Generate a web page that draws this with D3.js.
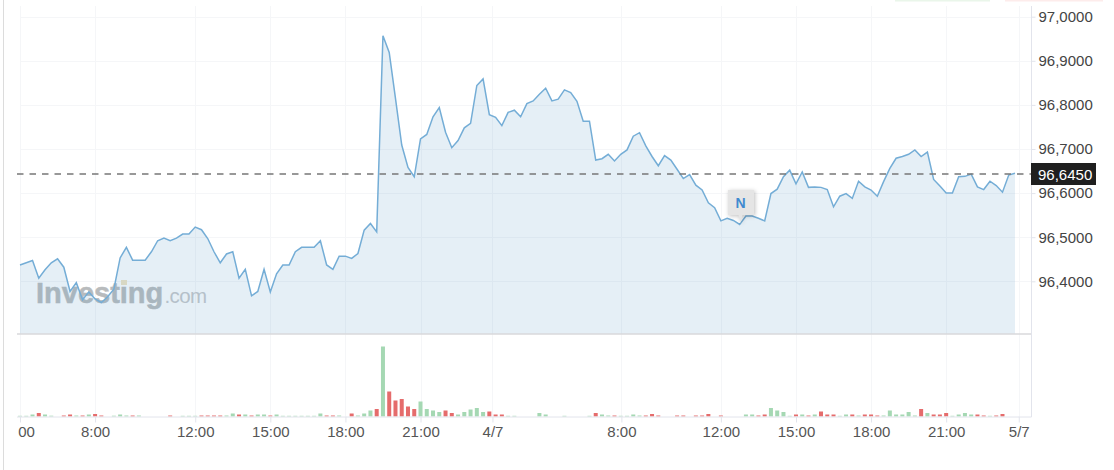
<!DOCTYPE html>
<html>
<head>
<meta charset="utf-8">
<script src="https://cdn.jsdelivr.net/npm/d3@7"></script>
<style>
html, body { margin: 0; padding: 0; background: #fff; overflow: hidden; }
text { font-family: "Liberation Sans", Arial, sans-serif; }
</style>
</head>
<body>
<svg class="chart"></svg>
<script>
var price = [
  96.437, 96.442, 96.447, 96.407, 96.426, 96.442, 96.451, 96.432, 96.377, 96.397,
  96.358, 96.376, 96.360, 96.352, 96.365, 96.382, 96.453, 96.477, 96.448, 96.448,
  96.448, 96.467, 96.492, 96.498, 96.492, 96.498, 96.507, 96.507, 96.523, 96.517,
  96.497, 96.467, 96.442, 96.462, 96.467, 96.407, 96.427, 96.367, 96.377, 96.427,
  96.376, 96.417, 96.437, 96.437, 96.467, 96.477, 96.477, 96.477, 96.492, 96.437,
  96.427, 96.457, 96.457, 96.452, 96.463, 96.516, 96.531, 96.512, 96.957, 96.919,
  96.815, 96.709, 96.658, 96.637, 96.723, 96.733, 96.773, 96.794, 96.738, 96.703,
  96.719, 96.748, 96.758, 96.844, 96.859, 96.778, 96.772, 96.753, 96.783, 96.788,
  96.773, 96.803, 96.809, 96.824, 96.838, 96.809, 96.813, 96.834, 96.828, 96.808,
  96.763, 96.763, 96.675, 96.678, 96.688, 96.673, 96.688, 96.698, 96.729, 96.737,
  96.707, 96.683, 96.662, 96.685, 96.675, 96.654, 96.633, 96.642, 96.618, 96.607,
  96.578, 96.567, 96.537, 96.543, 96.538, 96.529, 96.548, 96.548, 96.543, 96.537,
  96.599, 96.609, 96.637, 96.652, 96.621, 96.648, 96.613, 96.614, 96.613, 96.608,
  96.569, 96.593, 96.599, 96.588, 96.627, 96.614, 96.607, 96.593, 96.626, 96.656,
  96.679, 96.683, 96.688, 96.698, 96.683, 96.693, 96.631, 96.616, 96.600, 96.600,
  96.637, 96.638, 96.643, 96.614, 96.608, 96.627, 96.617, 96.602, 96.641, 96.645
];

// signed: positive is an up bar (green), negative a down bar (red)
var volume = [
  0.7, 0.7, 2, -3.5, 2, 0.8, 0, -1, -2, 1,
  -1, 2, -2.5, -1, 0, 0.8, 2, 1, -1, 1,
  0, 0, 0, 0, -1, 0, 0.7, 0.7, 0.7, -1,
  -1, -1, -1, 1, 3, -2, 2, -1, 2, 2,
  -1, 2, 0.7, 0.7, 0.7, 0.7, 0.7, 0.7, 3, -1,
  -1, 1, 0, -3, 1, 3, 6, -7.5, 70, -25,
  -16, -17.5, -10, -7.5, 15, 7.5, 6, 4.5, -6, -3.5,
  2, 4.5, 7, 8.5, 4.5, -5, -2, -2, 0.7, 0.7,
  0, 0, 0, 3.5, 2, 0, 0, 0.7, 0, 0,
  0, 0.7, -3.5, 2, 1, -1, 0.7, 0.7, 2, 1,
  -1, -2.5, -1, 0, 0, -1, -1, 0, -1, -1,
  -2.5, 0, -1, 0, 0, 0, 2, 2, -1, -2,
  8.5, 6, 4.5, 0.7, -2, 2, -1, 2, -5, -2,
  -2, 0.7, 2, -2, 1, -2, -2, -1, 1, 6,
  2, 2, 4.5, 1, -7.5, 3.5, -2, -2, -3.5, 0.7,
  2, 3.5, 2, -2, -1, 0.7, -1, -2.5, 0, 0
];

var priceTicks = [97.0, 96.9, 96.8, 96.7, 96.6, 96.5, 96.4];
var lastPrice = 96.645;

// time axis is by bar number, the session gaps make some labels fall between bars
var timeTicks = [0, 12, 28, 40, 52, 64, 75.5, 96.1, 112, 124, 136, 148, 159.6];
var timeLabels = ["00", "8:00", "12:00", "15:00", "18:00", "21:00", "4/7", "8:00", "12:00", "15:00", "18:00", "21:00", "5/7"];

var width = 1114,
    height = 470,
    left = 20,
    axisX = 1031.5;

var svg = d3.select(".chart").attr("width", width).attr("height", height).style("display", "block");

var x = d3.scaleLinear().domain([0, 159]).range([left, 1015]);
var y = d3.scaleLinear().domain([97, 96.2805]).range([16.7, 334]);
var v = d3.scaleLinear().domain([0, 70]).range([416.5, 346.5]);

// top edge shadows of the buttons sitting above the chart
svg.append("rect").attr("x", 895).attr("y", 0).attr("width", 95).attr("height", 1.5).attr("fill", "#eaf6ea");
svg.append("rect").attr("x", 1005).attr("y", 0).attr("width", 98).attr("height", 1.5).attr("fill", "#fdeceb");

// left page border
svg.append("line").attr("x1", 3.5).attr("x2", 3.5).attr("y1", 0).attr("y2", height).attr("stroke", "#dcdcdc");

// grid
var grid = svg.append("g").attr("stroke", "#f5f6f8").attr("fill", "none");
grid.selectAll(".hgrid").data(priceTicks).enter().append("line")
    .attr("x1", left).attr("x2", axisX)
    .attr("y1", function(d) { return Math.round(y(d)) + 0.5; })
    .attr("y2", function(d) { return Math.round(y(d)) + 0.5; });
grid.selectAll(".vgrid").data(timeTicks).enter().append("line")
    .attr("x1", function(d) { return Math.round(x(d)) + 0.5; })
    .attr("x2", function(d) { return Math.round(x(d)) + 0.5; })
    .attr("y1", 6).attr("y2", 416);

// watermark goes under the line
var mark = svg.append("g").attr("transform", "translate(36,302.5)");
mark.append("text").attr("font-size", 29).attr("font-weight", "bold")
    .attr("fill", "#b8bbbd").attr("stroke", "#b8bbbd").attr("stroke-width", 0.5).text("Investing");
mark.append("text").attr("x", 128.5).attr("font-size", 20.5).attr("letter-spacing", -0.6)
    .attr("fill", "#c6c8ca").text(".com");
mark.append("rect").attr("x", 85).attr("y", -22.5).attr("width", 6).attr("height", 5).attr("fill", "#f0e4c4");

// price area and line
var area = d3.area()
    .x(function(d, i) { return x(i); })
    .y0(y.range()[1])
    .y1(function(d) { return y(d); });

var line = d3.line()
    .x(function(d, i) { return x(i); })
    .y(function(d) { return y(d); });

svg.append("path").datum(price).attr("d", area).attr("fill", "#5d9cc8").attr("fill-opacity", 0.16);
svg.append("path").datum(price).attr("d", line)
    .attr("fill", "none").attr("stroke", "#74add6").attr("stroke-width", 1.5);

// volume bars
svg.append("g").selectAll("rect").data(volume).enter().append("rect")
    .attr("x", function(d, i) { return x(i) - 2; })
    .attr("y", function(d) { return v(Math.abs(d)); })
    .attr("width", 4)
    .attr("height", function(d) { return v(0) - v(Math.abs(d)); })
    .attr("fill", function(d) { return d > 0 ? "#a5d8b3" : "#e56c6c"; });

// panel lines
svg.append("line").attr("x1", 17).attr("x2", axisX).attr("y1", 334).attr("y2", 334)
    .attr("stroke", "#d8d9db").attr("stroke-width", 1.5);
svg.append("line").attr("x1", axisX).attr("x2", axisX).attr("y1", 6).attr("y2", 417)
    .attr("stroke", "#e2e4ec");

// price axis
var priceAxis = svg.append("g")
    .attr("transform", "translate(" + axisX + ",0)")
    .call(d3.axisRight(y)
        .tickValues(priceTicks)
        .tickSize(4)
        .tickPadding(3)
        .tickFormat(function(d) { return d3.format(".4f")(d).replace(".", ","); }));
priceAxis.select(".domain").remove();
priceAxis.selectAll("line").attr("stroke", "#e2e4ec");
priceAxis.selectAll("text").attr("font-size", 15).attr("fill", "#444");

// time axis
var timeAxis = svg.append("g")
    .attr("transform", "translate(0,416.5)")
    .call(d3.axisBottom(x)
        .tickValues(timeTicks)
        .tickSize(6)
        .tickPadding(4)
        .tickFormat(function(d, i) { return timeLabels[i]; }));
timeAxis.select(".domain").attr("d", "M17,0.5H" + axisX).attr("stroke", "#e2e4ec");
timeAxis.selectAll("line").attr("stroke", "#e2e4ec");
timeAxis.selectAll("text").attr("font-size", 15).attr("fill", "#555")
    .attr("dx", function(d, i) { return i == 0 ? 6 : 0; });

// current price
svg.append("line").attr("x1", 17).attr("x2", axisX).attr("y1", 174).attr("y2", 174)
    .attr("stroke", "#777").attr("stroke-width", 1.6).attr("stroke-dasharray", "6.5 6");
svg.append("rect").attr("x", axisX - 0.5).attr("y", 163).attr("width", 65).attr("height", 22).attr("fill", "#1f1f1f");
svg.append("text").attr("x", 1038).attr("y", 179.5)
    .attr("font-size", 15).attr("fill", "#fff").text(d3.format(".4f")(lastPrice).replace(".", ","));

// news flag
var flag = svg.append("g").attr("transform", "translate(740.5,0)");
flag.append("path").attr("d", "M-12.5,190H13.5V215H2L0,223L-2,215H-12.5Z").attr("fill", "#e5e5e5")
    .style("filter", "drop-shadow(1px 1px 2px rgba(0,0,0,.25))");
flag.append("text").attr("x", 0).attr("y", 207.5).attr("text-anchor", "middle")
    .attr("font-size", 14).attr("font-weight", "bold").attr("fill", "#3f8ad0").text("N");
</script>
</body>
</html>
